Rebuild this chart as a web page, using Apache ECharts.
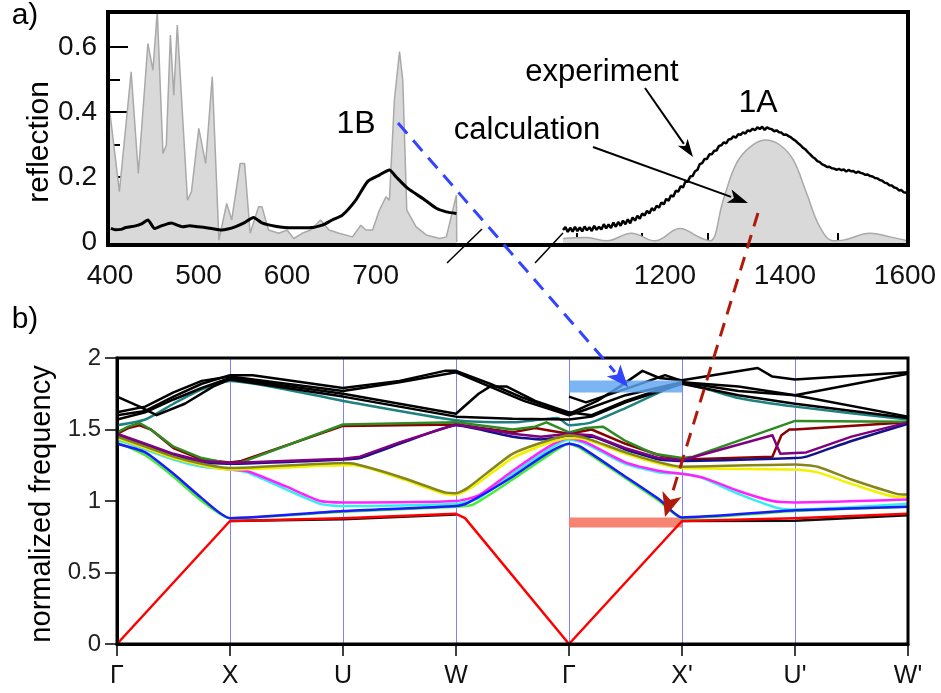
<!DOCTYPE html>
<html>
<head>
<meta charset="utf-8">
<script src="https://cdn.jsdelivr.net/npm/echarts@6/dist/echarts.min.js"></script>
<style>html,body{margin:0;padding:0;background:#fff}#c{width:941px;height:693px}</style>
</head>
<body>
<div id="c"></div>
<script>
// ---------- panel a) data ----------
const calcLeft = [[400,0.396],[410.6,0.155],[423.9,0.524],[432,0.211],[442.8,0.611],[448.5,0.529],[453.4,0.71],[459.8,0.273],[463.6,0.298],[468.2,0.637],[472,0.452],[476,0.668],[487.5,0.129],[492,0.155],[500.3,0.35],[508,0.242],[515.5,0.509],[523,0.006],[531.8,0.119],[537.5,0.068],[547,0.242],[552,0.242],[558.3,0.027],[567.8,0.109],[571.6,0.109],[579,0.037],[590.6,0.027],[600,0.037],[607.6,0.011],[617,0.027],[626.5,0.037],[637.8,0.068],[647.4,0.037],[658.7,0.027],[673.9,0.016],[683.3,0.052],[689,0.037],[696.6,0.037],[704.2,0.098],[711.7,0.139],[715.6,0.129],[721.2,0.437],[727,0.586],[730.7,0.498],[735.2,0.098],[745.8,0.047],[757.2,0.022],[772.4,0.011],[779.9,0.016],[791.3,0.145],[791.6,0]];
const expLeft = [[401,0.042],[406,0.038],[412.5,0.039],[418,0.045],[427.6,0.049],[435,0.055],[442.8,0.068],[450.3,0.042],[458,0.05],[469.3,0.059],[476,0.052],[482.6,0.047],[490,0.05],[499.7,0.047],[507,0.045],[514.8,0.042],[526,0.037],[533,0.04],[541.3,0.047],[552,0.06],[562,0.076],[571.6,0.059],[586.7,0.049],[605.7,0.044],[624.6,0.044],[639.8,0.052],[651,0.068],[662.5,0.083],[677.6,0.129],[690.9,0.186],[704.2,0.206],[715.6,0.222],[723,0.201],[736.4,0.165],[753.4,0.134],[768.5,0.104],[779.9,0.093],[791.3,0.088]];
const calcRight = [[1030,0.011],[1069,0.014],[1103,0.004],[1144,0.027],[1183,0.004],[1225,0.042],[1258,0.014],[1275,0.004],[1297,0.129],[1319,0.242],[1342,0.293],[1367,0.314],[1392,0.298],[1414,0.252],[1436,0.150],[1458,0.047],[1481,0.004],[1497,0.006],[1542,0.027],[1575,0.016],[1605,0.004]];
const expRight = [[1030,0.037],[1034,0.046],[1038,0.031],[1042,0.044],[1046,0.032],[1050,0.047],[1054,0.034],[1058,0.045],[1062,0.033],[1066,0.048],[1070,0.036],[1074,0.046],[1078,0.034],[1082,0.050],[1086,0.038],[1090,0.047],[1094,0.039],[1098,0.055],[1102,0.042],[1106,0.054],[1110,0.043],[1114,0.060],[1118,0.047],[1122,0.062],[1126,0.050],[1130,0.066],[1134,0.055],[1138,0.070],[1142,0.058],[1146,0.076],[1150,0.066],[1154,0.081],[1158,0.072],[1162,0.088],[1166,0.082],[1170,0.096],[1174,0.088],[1178,0.104],[1182,0.097],[1186,0.112],[1190,0.106],[1194,0.122],[1198,0.116],[1202,0.133],[1206,0.127],[1210,0.144],[1214,0.140],[1218,0.158],[1222,0.155],[1226,0.172],[1230,0.168],[1234,0.186],[1238,0.186],[1242,0.202],[1246,0.203],[1250,0.218],[1254,0.222],[1258,0.240],[1262,0.243],[1266,0.256],[1270,0.256],[1274,0.270],[1278,0.270],[1282,0.281],[1286,0.282],[1290,0.296],[1294,0.298],[1298,0.307],[1302,0.304],[1306,0.316],[1310,0.317],[1314,0.325],[1318,0.321],[1322,0.332],[1326,0.330],[1330,0.338],[1334,0.334],[1338,0.344],[1342,0.341],[1346,0.349],[1350,0.344],[1354,0.353],[1358,0.348],[1362,0.355],[1366,0.345],[1370,0.353],[1374,0.349],[1378,0.347],[1382,0.341],[1386,0.344],[1390,0.338],[1394,0.337],[1398,0.330],[1402,0.331],[1406,0.326],[1410,0.322],[1414,0.316],[1418,0.311],[1422,0.304],[1426,0.298],[1430,0.290],[1434,0.285],[1438,0.277],[1442,0.270],[1446,0.262],[1450,0.257],[1454,0.249],[1458,0.246],[1462,0.239],[1466,0.236],[1470,0.231],[1474,0.232],[1478,0.227],[1482,0.226],[1486,0.222],[1490,0.225],[1494,0.221],[1498,0.224],[1502,0.217],[1506,0.222],[1510,0.218],[1514,0.219],[1518,0.213],[1522,0.217],[1526,0.213],[1530,0.211],[1534,0.207],[1538,0.208],[1542,0.203],[1546,0.202],[1550,0.197],[1554,0.196],[1558,0.191],[1562,0.189],[1566,0.183],[1570,0.181],[1574,0.175],[1578,0.174],[1582,0.168],[1586,0.166],[1590,0.159],[1594,0.160],[1598,0.153],[1602,0.152],[1605,0.147]];
const leftXLabels = [400,500,600,700];
const leftXTicks = [458,513,567,622,677,731,787];
const rightXLabels = [1200,1400,1600];
const rightXTicks = [1053,1162,1272,1380,1488];
const reflMajor = [0,0.2,0.4,0.6];
const reflMinor = [0.1,0.3,0.5];

// ---------- panel b) data ----------
const kLabels = ['Γ','X','U','W','Γ',"X'","U'","W'"];
const red = [[0,0],[1,0.86],[2,0.88],[3,0.91],[3.08,0.88],[4,0],[5,0.86],[6,0.88],[7,0.91]];
const blackLow = [[1,0.86],[2,0.872],[3,0.905],null,[5,0.86],[6,0.862],[7,0.90]];
const lime = [[0,1.41],[0.25,1.32],[0.5,1.17],[0.75,1.00],[1,0.88],[2,0.925],[3,0.96],[3.15,0.975],[3.5,1.15],[3.8,1.31],[4,1.40],[4.1,1.37],[4.5,1.16],[4.8,1.0],[5,0.88],[6,0.93],[7,0.96]];
const blue = [[0,1.40],[0.25,1.34],[0.5,1.19],[0.75,1.02],[1,0.88],[2,0.93],[3,0.965],[3.1,0.985],[3.5,1.17],[3.8,1.33],[4,1.40],[4.1,1.38],[4.5,1.17],[4.8,1.01],[5,0.885],[6,0.935],[7,0.96]];
const cyan = [[0,1.43],[0.25,1.36],[0.5,1.29],[0.75,1.24],[1,1.22],[1.15,1.20],[1.5,1.08],[1.8,0.98],[2,0.965],[3,0.98],[3.2,1.02],[3.5,1.19],[3.8,1.35],[4,1.43],[4.15,1.40],[4.5,1.26],[4.8,1.20],[5,1.19],[5.15,1.17],[5.5,1.05],[5.85,0.95],[6,0.94],[7,0.98]];
const magenta = [[0,1.44],[0.25,1.37],[0.5,1.30],[0.75,1.25],[1,1.22],[1.15,1.21],[1.5,1.10],[1.8,1.00],[2,0.99],[3,1.00],[3.2,1.04],[3.5,1.21],[3.8,1.37],[4,1.44],[4.15,1.41],[4.5,1.27],[4.8,1.21],[5,1.19],[5.2,1.16],[5.5,1.07],[5.8,1.00],[6,0.99],[7,1.01]];
const yellow = [[0,1.44],[0.25,1.37],[0.5,1.30],[0.75,1.25],[1,1.22],[2,1.25],[2.1,1.25],[2.5,1.16],[2.9,1.05],[3,1.045],[3.15,1.10],[3.5,1.30],[3.8,1.40],[4,1.44],[4.15,1.43],[4.5,1.33],[4.8,1.26],[5,1.23],[6,1.22],[6.2,1.20],[6.5,1.12],[6.9,1.03],[7,1.03]];
const olive = [[0,1.45],[0.25,1.38],[0.5,1.31],[0.75,1.26],[1,1.23],[2,1.265],[2.1,1.26],[2.5,1.17],[2.9,1.06],[3,1.055],[3.1,1.09],[3.5,1.33],[3.8,1.42],[4,1.46],[4.15,1.44],[4.5,1.34],[4.8,1.27],[5,1.24],[6,1.255],[6.2,1.24],[6.5,1.15],[6.9,1.05],[7,1.045]];
const navy = [[0,1.46],[0.25,1.39],[0.5,1.32],[0.75,1.27],[1,1.26],[2,1.29],[2.15,1.30],[2.5,1.40],[3,1.53],[3.5,1.45],[3.75,1.43],[4,1.45],[4.2,1.45],[4.5,1.36],[4.8,1.29],[5,1.28],[6,1.30],[6.1,1.31],[6.5,1.42],[7,1.54]];
const purple = [[0,1.47],[0.25,1.40],[0.5,1.33],[0.75,1.28],[1,1.265],[2,1.295],[2.15,1.31],[2.5,1.41],[3,1.535],[3.5,1.47],[3.75,1.45],[4,1.47],[4.2,1.46],[4.5,1.37],[4.8,1.30],[5,1.285],[5.8,1.46],[5.87,1.33],[6,1.335],[6.1,1.34],[6.5,1.45],[7,1.55]];
const maroon = [[0,1.47],[0.1,1.51],[0.2,1.53],[0.3,1.50],[0.5,1.37],[0.75,1.29],[1,1.27],[1.1,1.28],[2,1.525],[3,1.535],[3.5,1.48],[3.7,1.51],[3.85,1.49],[4,1.47],[4.2,1.50],[4.5,1.40],[4.8,1.32],[5,1.29],[5.8,1.31],[5.88,1.46],[5.95,1.50],[6,1.50],[7,1.55]];
const green = [[0,1.48],[0.1,1.52],[0.2,1.545],[0.3,1.50],[0.5,1.38],[0.75,1.30],[1,1.26],[1.1,1.27],[2,1.535],[3,1.55],[3.5,1.50],[3.7,1.52],[3.8,1.55],[4,1.48],[4.15,1.51],[4.3,1.52],[4.5,1.42],[4.75,1.33],[5,1.30],[5.1,1.31],[6,1.56],[7,1.555]];
const teal = [[0,1.53],[0.25,1.57],[0.5,1.68],[0.75,1.78],[1,1.84],[2,1.70],[3,1.565],[3.5,1.55],[3.75,1.57],[3.9,1.58],[4,1.53],[4.2,1.55],[4.5,1.65],[4.8,1.76],[5,1.82],[5.5,1.72],[6,1.66],[7,1.57]];
const black1 = [[0,1.60],[0.25,1.63],[0.5,1.73],[0.75,1.82],[1,1.88],[1.2,1.88],[2,1.79],[2.5,1.84],[2.9,1.91],[3,1.91],[3.3,1.82],[3.6,1.72],[4,1.61],[4.25,1.70],[4.45,1.80],[4.65,1.91],[4.8,1.86],[5,1.845],[5.67,1.93],[5.8,1.87],[6,1.85],[7,1.90]];
const black2 = [[0,1.62],[0.25,1.66],[0.5,1.76],[0.75,1.84],[1,1.87],[2,1.77],[2.5,1.83],[3,1.90],[3.3,1.80],[3.6,1.70],[4,1.60],[4.15,1.64],[4.5,1.74],[5,1.83],[5.5,1.80],[6,1.74],[7,1.89]];
const black3 = [[0,1.57],[0.25,1.62],[0.5,1.71],[0.75,1.79],[1,1.86],[2,1.75],[3,1.61],[3.2,1.75],[3.3,1.80],[3.45,1.80],[3.7,1.70],[4,1.62],[4.2,1.60],[4.5,1.70],[5,1.83],[5.5,1.77],[6,1.74],[7,1.59]];
const black4 = [[0,1.73],[0.2,1.66],[0.35,1.60],[0.6,1.68],[0.85,1.80],[1,1.85],[2,1.73],[3,1.59],[3.5,1.575],[4,1.57],[4.2,1.59],[4.5,1.69],[5,1.82],[5.5,1.74],[6,1.68],[7,1.58]];
const black5 = [[4,1.73],[4.15,1.69],[4.3,1.73],[4.6,1.81],[4.85,1.88],[5,1.84]];
const blueBar = [[4,1.80],[5,1.80]];
const salmonBar = [[4,0.85],[5,0.85]];

const FONT = 'Liberation Sans, Arial, Helvetica, sans-serif';
const chart = echarts.init(document.getElementById('c'), null, {renderer:'canvas'});
const nullFix = a => a.map(p => p === null ? ['-','-'] : p);

// [name, data, colour, smoothness]
const bandDefs = [
  ['blackLow', blackLow, '#111111', 0],
  ['teal', teal, '#1f8080', 0.2],
  ['black4', black4, '#000000', 0],
  ['black3', black3, '#000000', 0],
  ['black2', black2, '#000000', 0],
  ['black1', black1, '#000000', 0],
  ['black5', black5, '#000000', 0],
  ['maroon', maroon, '#8b0000', 0],
  ['green', green, '#2e8b22', 0],
  ['navy', navy, '#12128a', 0.15],
  ['purple', purple, '#800080', 0],
  ['cyan', cyan, '#33f0f0', 0.2],
  ['magenta', magenta, '#ff22ff', 0.2],
  ['yellow', yellow, '#f2f200', 0.2],
  ['olive', olive, '#85851a', 0.2],
  ['lime', lime, '#44ee33', 0.2],
  ['blue', blue, '#1a1aff', 0.2],
  ['red', red, '#ff0000', 0]
];

const series = [
  {name:'calcLeft', type:'line', xAxisIndex:1, yAxisIndex:1, data:calcLeft, symbol:'none', z:2,
   lineStyle:{color:'#a9a9a9', width:1.5}, areaStyle:{color:'#d9d9d9', origin:'start', opacity:1}},
  {name:'expLeft', type:'line', xAxisIndex:1, yAxisIndex:1, data:expLeft, symbol:'none', smooth:0.2, z:3,
   lineStyle:{color:'#000', width:3}},
  {name:'calcRight', type:'line', xAxisIndex:2, yAxisIndex:3, data:calcRight, symbol:'none', smooth:0.4, z:2,
   lineStyle:{color:'#a9a9a9', width:1.5}, areaStyle:{color:'#d9d9d9', origin:'start', opacity:1}},
  {name:'expRight', type:'line', xAxisIndex:2, yAxisIndex:3, data:expRight, symbol:'none', z:3,
   lineStyle:{color:'#000', width:2.5}}
];
bandDefs.forEach(([n, d, c, s]) => {
  series.push({name:n, type:'line', xAxisIndex:3, yAxisIndex:4, data:nullFix(d), symbol:'none',
    connectNulls:false, smooth:s || false, lineStyle:{color:c, width:2.5, join:'round'}, z:3});
});
series.push({name:'blueBar', type:'line', xAxisIndex:3, yAxisIndex:4, data:blueBar, symbol:'none', z:5,
  lineStyle:{color:'rgba(95,165,240,0.82)', width:12, cap:'butt'}});
series.push({name:'salmonBar', type:'line', xAxisIndex:3, yAxisIndex:4, data:salmonBar, symbol:'none', z:2,
  lineStyle:{color:'rgba(245,125,108,0.95)', width:10, cap:'butt'}});

// arrows / annotations
function arrow(x1,y1,x2,y2,color,width,dash,headLen,headW){
  const dx=x2-x1, dy=y2-y1, L=Math.hypot(dx,dy), ux=dx/L, uy=dy/L;
  const bx=x2-ux*headLen, by=y2-uy*headLen, nx=-uy, ny=ux;
  return [
    {type:'line', z:100, shape:{x1:x1,y1:y1,x2:bx+ux*2,y2:by+uy*2}, style:{stroke:color, lineWidth:width, lineDash:dash||null}},
    {type:'polygon', z:101, shape:{points:[[x2,y2],[bx+nx*headW,by+ny*headW],[x2-ux*headLen*0.75,y2-uy*headLen*0.75],[bx-nx*headW,by-ny*headW]]}, style:{fill:color}}
  ];
}
const txt = (t,x,y,size,extra) => Object.assign({type:'text', z:102, x:x, y:y,
  style:{text:t, font:size+'px '+FONT, fill:'#000', align:'center', verticalAlign:'middle'}}, extra||{});

const graphic = [
  txt('a)', 25, 16, 30),
  txt('b)', 25, 320, 30),
  txt('1B', 356, 124, 32),
  txt('1A', 758, 103, 32),
  txt('experiment', 602, 72, 31),
  txt('calculation', 527, 130, 31),
  txt('reflection', 40, 142, 30, {rotation:Math.PI/2}),
  txt('normalized frequency', 42, 504, 29, {rotation:Math.PI/2}),
  {type:'line', z:100, shape:{x1:447,y1:263,x2:482,y2:229}, style:{stroke:'#000', lineWidth:1.5}},
  {type:'line', z:100, shape:{x1:535,y1:263,x2:563,y2:233}, style:{stroke:'#000', lineWidth:1.5}}
]
.concat(arrow(645,88,693,157,'#000',2,null,18,6))
.concat(arrow(593,147,748,203,'#000',2,null,20,7))
.concat(arrow(398,123,628,387,'#3344ff',3,[14,9],22,9))
.concat(arrow(758,213,665,517,'#b01a0a',3,[14,9],24,10));

const axisFontTop = {fontSize:28, color:'#111', fontFamily:FONT};

const option = {
  animation:false,
  backgroundColor:'#fff',
  grid:[
    {left:108, right:33, top:12, height:233, show:true, borderColor:'#000', borderWidth:4, backgroundColor:'transparent', z:10},
    {left:110, width:363, top:12, height:233},
    {left:560, right:33, top:12, height:233},
    {left:117, right:33, top:358, height:286, show:true, borderColor:'#000', borderWidth:3, backgroundColor:'transparent', z:10}
  ],
  xAxis:[
    {gridIndex:0, type:'value', show:false, min:0, max:1},
    {gridIndex:1, type:'value', min:400, max:810, position:'bottom',
     axisLine:{show:false}, splitLine:{show:false},
     axisTick:{show:true, inside:true, length:9, lineStyle:{color:'#000', width:2}, customValues:leftXTicks},
     axisLabel:Object.assign({margin:17, customValues:leftXLabels, formatter:v => String(v)}, axisFontTop)},
    {gridIndex:2, type:'value', min:1025, max:1605, position:'bottom',
     axisLine:{show:false}, splitLine:{show:false},
     axisTick:{show:true, inside:true, length:9, lineStyle:{color:'#000', width:2}, customValues:rightXTicks},
     axisLabel:Object.assign({margin:17, customValues:rightXLabels, formatter:v => String(v)}, axisFontTop)},
    {gridIndex:3, type:'value', min:0, max:7, interval:1,
     axisLine:{show:true, lineStyle:{color:'#000', width:3}},
     splitLine:{show:true, lineStyle:{color:'#8080ff', width:1}},
     axisTick:{show:true, inside:false, length:12, lineStyle:{color:'#000', width:1.5}},
     axisLabel:{margin:20, fontSize:25, color:'#111', fontFamily:FONT, formatter:v => kLabels[Math.round(v)]}}
  ],
  yAxis:[
    {gridIndex:0, type:'value', show:false, min:0, max:1},
    {gridIndex:1, type:'value', min:-0.009, max:0.708, position:'left',
     axisLine:{show:false}, splitLine:{show:false},
     axisTick:{show:true, inside:true, length:18, lineStyle:{color:'#000', width:2}, customValues:reflMajor},
     axisLabel:Object.assign({margin:13, customValues:reflMajor, formatter:v => v===0 ? '0' : v.toFixed(1)}, axisFontTop)},
    {gridIndex:1, type:'value', min:-0.009, max:0.708, position:'left',
     axisLine:{show:false}, splitLine:{show:false},
     axisTick:{show:true, inside:true, length:10, lineStyle:{color:'#000', width:2}, customValues:reflMinor},
     axisLabel:{show:false}},
    {gridIndex:2, type:'value', show:false, min:-0.009, max:0.708},
    {gridIndex:3, type:'value', min:0, max:2, interval:0.5,
     axisLine:{show:true, lineStyle:{color:'#000', width:3}},
     splitLine:{show:false},
     axisTick:{show:true, inside:false, length:12, lineStyle:{color:'#000', width:1.5}},
     axisLabel:{margin:16, fontSize:24, color:'#222', fontFamily:FONT}}
  ],
  series:series,
  graphic:graphic
};
chart.setOption(option);
</script>
</body>
</html>
